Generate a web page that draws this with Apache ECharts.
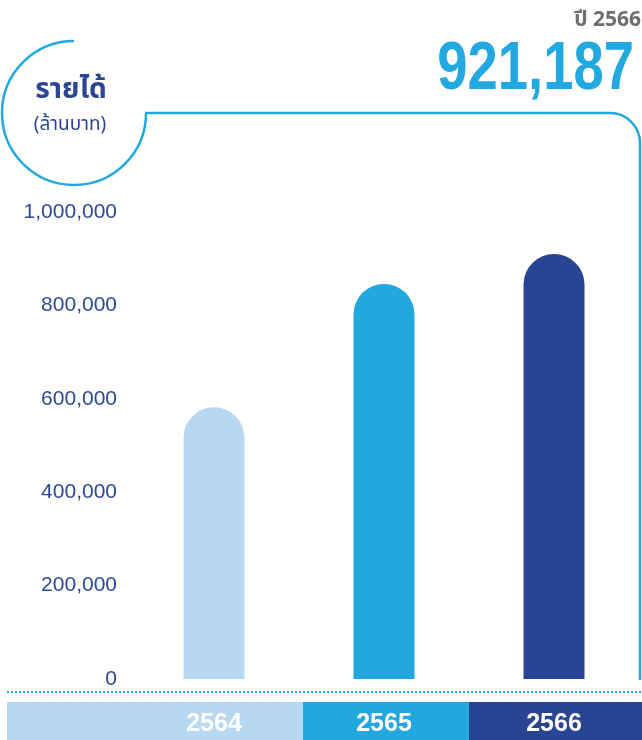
<!DOCTYPE html>
<html>
<head>
<meta charset="utf-8">
<script src="https://cdn.jsdelivr.net/npm/echarts@6/dist/echarts.min.js"></script>
<style>
html,body{margin:0;padding:0;background:#fff;}
#c{width:642px;height:740px;}
</style>
</head>
<body>
<div id="c"></div>
<script>
var categories = ['2564', '2565', '2566'];
var revenue = [582000, 846000, 910000];
var barColors = ['#b7d8f2', '#22a7df', '#284493'];
var yTicks = [0, 200000, 400000, 600000, 800000, 1000000];
var headlineYear = 'ปี 2566';
var headlineValue = '921,187';
var titleText = 'รายได้';
var unitText = '(ล้านบาท)';

var thaiFont = '"Noto Sans Thai", "Noto Sans Thai Looped", "Loma", "Garuda", "Noto Sans", "Liberation Sans", sans-serif';
var numFont = '"Liberation Sans", Arial, sans-serif';
var cyan = '#22a9e1';
var navy = '#2c4a9b';

var chart = echarts.init(document.getElementById('c'), null, {renderer: 'canvas'});

var option = {
  animation: false,
  backgroundColor: '#ffffff',
  grid: {left: 129, right: 3, top: 212, bottom: 61, containLabel: false},
  xAxis: {
    type: 'category',
    data: categories,
    axisLine: {show: false},
    axisTick: {show: false},
    axisLabel: {
      color: '#ffffff',
      fontFamily: numFont,
      fontWeight: 'bold',
      fontSize: 25,
      margin: 45,
      verticalAlign: 'middle',
      lineHeight: 26
    }
  },
  yAxis: {
    type: 'value',
    min: yTicks[0],
    max: yTicks[yTicks.length - 1],
    interval: yTicks[1] - yTicks[0],
    splitLine: {show: false},
    axisLine: {show: false},
    axisTick: {show: false},
    axisLabel: {
      color: navy,
      fontFamily: numFont,
      fontSize: 21,
      margin: 12,
      formatter: function (v) { return v.toLocaleString('en-US'); }
    }
  },
  series: [{
    type: 'bar',
    data: revenue.map(function (v, i) {
      return {value: v, itemStyle: {color: barColors[i]}};
    }),
    barWidth: 61,
    itemStyle: {borderRadius: [30.5, 30.5, 0, 0]}
  }]
};
chart.setOption(option);

var cx = categories.map(function (c) { return chart.convertToPixel({xAxisIndex: 0}, c); });
var b1 = (cx[0] + cx[1]) / 2 + 4;
var b2 = (cx[1] + cx[2]) / 2;

chart.setOption({
  graphic: [
    {type: 'rect', z: -10, shape: {x: 7, y: 702, width: b1 - 7, height: 38}, style: {fill: barColors[0]}},
    {type: 'rect', z: -10, shape: {x: b1, y: 702, width: b2 - b1, height: 38}, style: {fill: barColors[1]}},
    {type: 'rect', z: -10, shape: {x: b2, y: 702, width: 642 - b2, height: 38}, style: {fill: barColors[2]}},
    {type: 'line', z: -10, shape: {x1: 7, y1: 692, x2: 642, y2: 692}, style: {stroke: cyan, lineWidth: 2, lineDash: [2, 2]}},
    {type: 'arc', shape: {cx: 74, cy: 113, r: 72, startAngle: 0, endAngle: Math.PI * 1.5, clockwise: true}, style: {stroke: cyan, lineWidth: 2.5, fill: null}},
    {type: 'line', shape: {x1: 145, y1: 113, x2: 610, y2: 113}, style: {stroke: cyan, lineWidth: 2.5}},
    {type: 'arc', shape: {cx: 610, cy: 143, r: 30, startAngle: -Math.PI / 2, endAngle: 0, clockwise: true}, style: {stroke: cyan, lineWidth: 2.5, fill: null}},
    {type: 'line', shape: {x1: 640, y1: 143, x2: 640, y2: 680}, style: {stroke: cyan, lineWidth: 2.5}},
    {type: 'text', x: 71, y: 92, style: {text: titleText, fill: '#2b4596', font: 'bold 28px ' + thaiFont, textAlign: 'center', textVerticalAlign: 'middle'}},
    {type: 'text', x: 70, y: 126, style: {text: unitText, fill: '#2b4596', font: '19px ' + thaiFont, textAlign: 'center', textVerticalAlign: 'middle'}},
    {type: 'text', x: 641, y: 22, style: {text: headlineYear, fill: '#6d6e71', font: 'bold 21px ' + thaiFont, textAlign: 'right', textVerticalAlign: 'middle'}},
    {type: 'text', x: 634, y: 70, scaleX: 0.8, style: {text: headlineValue, fill: cyan, font: 'bold 68px ' + numFont, textAlign: 'right', textVerticalAlign: 'middle'}}
  ]
});
</script>
</body>
</html>
